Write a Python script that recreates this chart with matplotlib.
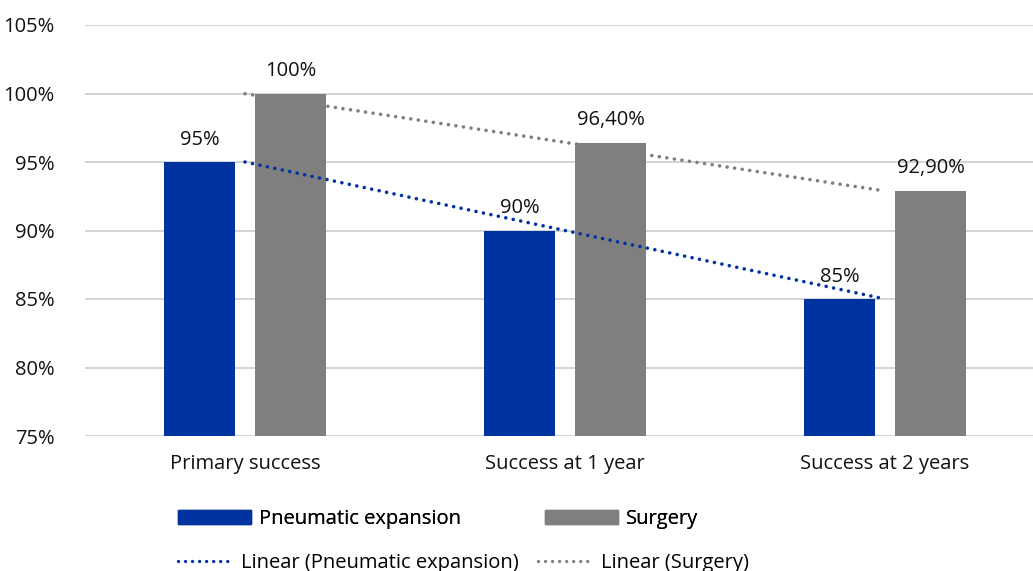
import numpy as np
import matplotlib.pyplot as plt
from matplotlib.patches import Patch
from matplotlib.lines import Line2D

plt.rcParams['font.family'] = ['Open Sans', 'DejaVu Sans']

categories = ['Primary success', 'Success at 1 year', 'Success at 2 years']
pneumatic = [95.0, 90.0, 85.0]
surgery = [100.0, 96.4, 92.9]
pneumatic_labels = ['95%', '90%', '85%']
surgery_labels = ['100%', '96,40%', '92,90%']
yticks = [75, 80, 85, 90, 95, 100, 105]

blue = '#0033a0'
gray = '#7f7f7f'
ink = '#111111'
fs = 14.5

fig = plt.figure(figsize=(10.33, 5.71), dpi=100)
ax = fig.add_axes([85 / 1033, 135 / 571, 960 / 1033, 411 / 571])

x = np.arange(len(categories))
w = 0.222
off = 0.142
ax.bar(x - off, [v - 75 for v in pneumatic], w, bottom=75, color=blue, zorder=2)
ax.bar(x + off, [v - 75 for v in surgery], w, bottom=75, color=gray, zorder=2)

for xi, v, t in zip(x - off, pneumatic, pneumatic_labels):
    ax.text(xi, v + 0.9, t, ha='center', va='bottom', fontsize=fs, color=ink)
for xi, v, t in zip(x + off, surgery, surgery_labels):
    ax.text(xi, v + 0.9, t, ha='center', va='bottom', fontsize=fs, color=ink)

# linear trendlines through the category centres
dots = (0, (0.01, 2.1))
for vals, c in [(pneumatic, blue), (surgery, gray)]:
    k, b = np.polyfit(x, vals, 1)
    ax.plot(x, k * x + b, color=c, lw=2.6, linestyle=dots,
            dash_capstyle='round', zorder=3)

ax.set_xlim(-0.5, 2.5)
ax.set_ylim(75, 105)
ax.set_yticks(yticks)
ax.set_yticklabels([f'{v}%' for v in yticks])
ax.set_xticks(x)
ax.set_xticklabels(categories)
ax.grid(axis='y', color='#d0d0d0', lw=1.3, zorder=0)
ax.set_axisbelow(True)
for s in ax.spines.values():
    s.set_visible(False)
ax.tick_params(length=0, labelsize=fs, colors=ink)
ax.tick_params(axis='x', pad=13)
ax.tick_params(axis='y', pad=22)

leg1 = fig.legend(handles=[Patch(color=blue, label='Pneumatic expansion'),
                           Patch(color=gray, label='Surgery')],
                  ncol=2, frameon=False, fontsize=fs, handlelength=3.6,
                  handleheight=0.7, columnspacing=4.2, handletextpad=0.4,
                  loc='center left', bbox_to_anchor=(160 / 1033, 1 - 519 / 571))
fig.add_artist(leg1)
fig.legend(handles=[Line2D([], [], color=blue, lw=2.4, linestyle=dots, dash_capstyle='round',
                           label='Linear (Pneumatic expansion)'),
                    Line2D([], [], color=gray, lw=2.4, linestyle=dots, dash_capstyle='round',
                           label='Linear (Surgery)')],
           ncol=2, frameon=False, fontsize=fs, handlelength=2.7,
           columnspacing=1.0, handletextpad=0.4,
           loc='center left', bbox_to_anchor=(160 / 1033, 1 - 563 / 571))

fig.savefig('out.png', dpi=100)
